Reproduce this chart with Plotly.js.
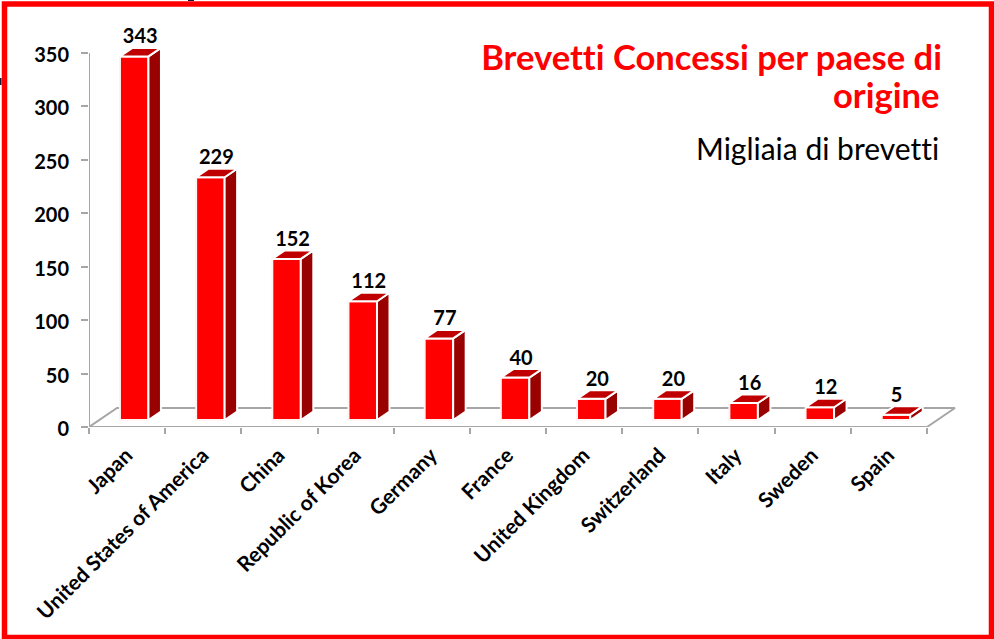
<!DOCTYPE html>
<html><head><meta charset="utf-8">
<script src="https://cdn.plot.ly/plotly-3.0.0.min.js"></script>
<style>html,body{margin:0;padding:0;background:#fff;overflow:hidden}#c{width:994px;height:639px}
text{font-variant-ligatures:none;font-feature-settings:"liga" 0,"clig" 0}</style>
</head><body><div id="c"></div>
<script>
var categories = ["Japan","United States of America","China","Republic of Korea","Germany","France","United Kingdom","Switzerland","Italy","Sweden","Spain"];
var values = [343,229,152,112,77,40,20,20,16,12,5];
var yTicks = [0,50,100,150,200,250,300,350];
var titleLine1 = "Brevetti Concessi per paese di";
var titleLine2 = "origine";
var subtitleText = "Migliaia di brevetti";

var W=994,H=639,L=89,R=965,T=15,B=427;
var PX_X=76.18, PX_Y=1.0686, PX_Y2=1.06;
var yMax=(B-T)/PX_Y, xMax=(R-L)/PX_X;
var y2Min=-(B-420)/PX_Y2, y2Max=(420-T)/PX_Y2;
var barOff=(134.2-L)/PX_X, barW=28.5/PX_X;
var dx=12.5/PX_X, dy=8.5/PX_Y2;
var floorDx=28/PX_X, floorDy=19/PX_Y;
var lastLabelShift=-5.5/PX_X;
var RED="#ff0000",SIDE="#990000",TOP="#c00000",AX="#a6a6a6",HALO="#fff2f2";
var FONT="Lato, sans-serif";
function pxX(p){return (p-L)/(R-L);}
function pxY(p){return 1-(p-T)/(B-T);}

var traces=[];
function structural(x,y){traces.push({type:"scatter",mode:"lines",x:x,y:y,line:{color:AX,width:2},hoverinfo:"skip",showlegend:false,xaxis:"x",yaxis:"y"});}
// floor and axis lines
structural([0,floorDx,11+floorDx,11],[0,floorDy,floorDy,0]);
structural([0,11],[0,0]);
structural([0,0],[0,yTicks[yTicks.length-1]]);
// front faces
var cx=values.map(function(v,i){return i+barOff;});
traces.push({type:"bar",x:cx,y:values,width:barW,marker:{color:RED,line:{color:HALO,width:2}},
  hoverinfo:"skip",showlegend:false,xaxis:"x",yaxis:"y2"});
// side + top faces
values.forEach(function(v,i){
  var x0=cx[i]-barW/2,x1=cx[i]+barW/2;
  traces.push({type:"scatter",mode:"lines",fill:"toself",fillcolor:SIDE,line:{color:"#ffffff",width:2},
    x:[x1,x1+dx,x1+dx,x1,x1],y:[v,v+dy,dy,0,v],hoverinfo:"skip",showlegend:false,xaxis:"x",yaxis:"y2"});
  traces.push({type:"scatter",mode:"lines",fill:"toself",fillcolor:TOP,line:{color:"#ffffff",width:2},
    x:[x0,x1,x1+dx,x0+dx,x0],y:[v,v,v+dy,v+dy,v],hoverinfo:"skip",showlegend:false,xaxis:"x",yaxis:"y2"});
});
// value labels
traces.push({type:"scatter",mode:"text",
  x:cx.map(function(c,i){return c+dx*0.48+(i===values.length-1?lastLabelShift:0);}),
  y:values.map(function(v){return v+dy-0.5;}),
  text:values.map(String),textposition:"top center",textfont:{family:FONT,size:20,color:"#000",weight:700},
  hoverinfo:"skip",showlegend:false,xaxis:"x",yaxis:"y2"});
// invisible trace that activates the label axis
traces.push({type:"scatter",mode:"markers",x:[0],y:[0],marker:{opacity:0},hoverinfo:"skip",showlegend:false,xaxis:"x2",yaxis:"y"});

var layout={
  width:W,height:H,paper_bgcolor:"#fff",plot_bgcolor:"rgba(0,0,0,0)",showlegend:false,
  margin:{l:L,r:W-R,t:T,b:H-B,pad:0},bargap:0,
  title:{text:titleLine1,x:942/W,xanchor:"right",xref:"container",y:1-58/H,yanchor:"middle",yref:"container",
    font:{family:FONT,size:34.6,color:RED,weight:700},automargin:false},
  xaxis:{type:"linear",range:[0,xMax],tickmode:"array",tickvals:categories.map(function(c,i){return i;}).concat([11]),
    showticklabels:false,ticks:"outside",ticklen:6,tickwidth:2,tickcolor:AX,showline:false,showgrid:false,zeroline:false,fixedrange:true},
  xaxis2:{type:"linear",range:[0,xMax],overlaying:"x",anchor:"y",side:"bottom",tickmode:"array",
    tickvals:categories.map(function(c,i){return i+0.49;}),ticktext:categories,tickangle:-45,
    tickfont:{family:FONT,size:21,color:"#000",weight:700},ticks:"",showline:false,showgrid:false,zeroline:false,ticklabelstandoff:11,fixedrange:true},
  yaxis:{range:[0,yMax],tickmode:"array",tickvals:yTicks,tickfont:{family:FONT,size:20,color:"#000",weight:700},
    ticks:"outside",ticklen:7,tickwidth:2,tickcolor:AX,showline:false,showgrid:false,zeroline:false,ticklabelstandoff:8,ticklabelshift:2,fixedrange:true},
  yaxis2:{range:[y2Min,y2Max],overlaying:"y",anchor:"x",side:"left",showticklabels:false,ticks:"",showline:false,showgrid:false,zeroline:false,fixedrange:true},
  annotations:[
    {text:titleLine2,xref:"paper",yref:"paper",x:pxX(942),xanchor:"right",y:pxY(94),yanchor:"middle",showarrow:false,
      font:{family:FONT,size:34.6,color:RED,weight:700}},
    {text:subtitleText,xref:"paper",yref:"paper",x:pxX(941),xanchor:"right",y:pxY(148),yanchor:"middle",showarrow:false,
      font:{family:FONT,size:30,color:"#000"}}],
  shapes:[
    {type:"rect",xref:"paper",yref:"paper",layer:"above",x0:pxX(4.5),x1:pxX(991.5),y0:pxY(637.5),y1:pxY(4),
     line:{color:RED,width:5.5},fillcolor:"rgba(0,0,0,0)"},
    {type:"rect",xref:"paper",yref:"paper",layer:"above",x0:pxX(188),x1:pxX(194),y0:pxY(1),y1:pxY(0),line:{width:0},fillcolor:"#101838"},
    {type:"rect",xref:"paper",yref:"paper",layer:"above",x0:pxX(0),x1:pxX(1.5),y0:pxY(85),y1:pxY(78),line:{width:0},fillcolor:"#101838"}
  ]
};
Plotly.newPlot("c",traces,layout,{displayModeBar:false,staticPlot:true});
</script></body></html>
